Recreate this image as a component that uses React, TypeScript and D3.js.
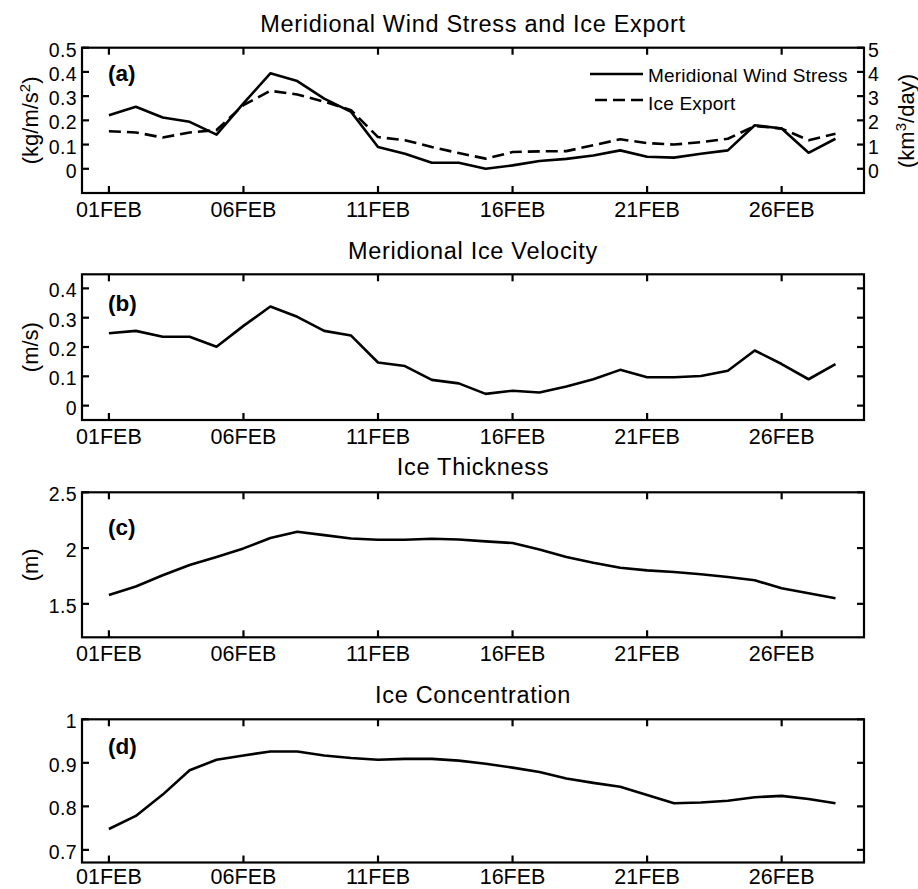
import React from "react";
import * as d3 from "d3";

// Day of February for every sample
const days = d3.range(1, 29);

// (a) Meridional wind stress (kg/m/s^2) and ice export (km^3/day)
const windStress = [
  0.221, 0.256, 0.212, 0.194, 0.141, 0.27, 0.394, 0.362, 0.29, 0.235,
  0.09, 0.062, 0.025, 0.025, 0.0, 0.014, 0.032, 0.041, 0.055, 0.076,
  0.05, 0.046, 0.062, 0.076, 0.18, 0.166, 0.066, 0.124,
];
const iceExport = [
  1.55, 1.5, 1.29, 1.5, 1.6, 2.63, 3.22, 3.07, 2.77, 2.42,
  1.31, 1.18, 0.9, 0.65, 0.42, 0.69, 0.72, 0.73, 0.97, 1.22,
  1.06, 1.0, 1.1, 1.24, 1.77, 1.66, 1.18, 1.45,
];
// (b) Meridional ice velocity (m/s)
const iceVelocity = [
  0.247, 0.255, 0.235, 0.235, 0.201, 0.272, 0.338, 0.303, 0.255, 0.239,
  0.147, 0.135, 0.088, 0.076, 0.04, 0.051, 0.045, 0.065, 0.09, 0.122,
  0.097, 0.097, 0.101, 0.119, 0.188, 0.142, 0.09, 0.142,
];
// (c) Ice thickness (m)
const iceThickness = [
  1.58, 1.655, 1.756, 1.848, 1.92, 1.997, 2.09, 2.146, 2.116, 2.086,
  2.074, 2.074, 2.083, 2.077, 2.06, 2.045, 1.988, 1.92, 1.869, 1.824,
  1.8, 1.786, 1.765, 1.741, 1.711, 1.64, 1.595, 1.55,
];
// (d) Ice concentration
const iceConcentration = [
  0.748, 0.778, 0.827, 0.883, 0.907, 0.917, 0.926, 0.926, 0.917, 0.911,
  0.907, 0.909, 0.909, 0.905, 0.898, 0.889, 0.879, 0.864, 0.854, 0.845,
  0.826, 0.807, 0.809, 0.813, 0.821, 0.824, 0.817, 0.807,
];

const dateTicks = [1, 6, 11, 16, 21, 26];
const dateLabels = ["01FEB", "06FEB", "11FEB", "16FEB", "21FEB", "26FEB"];

const ticksA = [0, 0.1, 0.2, 0.3, 0.4, 0.5];
const ticksARight = [0, 1, 2, 3, 4, 5];
const ticksB = [0, 0.1, 0.2, 0.3, 0.4];
const ticksC = [1.5, 2, 2.5];
const ticksD = [0.7, 0.8, 0.9, 1];

const FONT = "'Liberation Sans', Arial, Helvetica, sans-serif";
const LEFT = 82;
const RIGHT = 864;
const TICK = 7;
const LINE_W = 2.6;

const x = d3.scaleLinear().domain([0, 29.06]).range([LEFT, RIGHT]);
const fmt = (v: number) => String(+v.toFixed(2));

type Series = { values: number[]; dash?: string; scale?: d3.ScaleLinear<number, number> };

function Panel(props: {
  top: number;
  bottom: number;
  domain: [number, number];
  ticks: number[];
  title: string;
  titleY: number;
  letter: string;
  letterY: number;
  yLabel: React.ReactNode;
  series: Series[];
  rightTicks?: number[];
  dateLabelGap?: number;
}) {
  const { top, bottom, domain, ticks, title, titleY, letter, letterY, yLabel, series, rightTicks } = props;
  const dateGap = props.dateLabelGap ?? 23.5;
  const y = d3.scaleLinear().domain(domain).range([bottom, top]);
  const mid = (top + bottom) / 2;
  return (
    <g>
      <text
        x={(LEFT + RIGHT) / 2}
        y={titleY}
        textAnchor="middle"
        fontSize={23.5}
        letterSpacing={0.7}
        fontFamily={FONT}
        fill="#000"
      >
        {title}
      </text>
      {series.map((s, i) => {
        const sc = s.scale ?? y;
        const line = d3
          .line<number>()
          .x((_, j) => x(days[j]))
          .y((v) => sc(v));
        return (
          <path
            key={i}
            d={line(s.values) ?? ""}
            fill="none"
            stroke="#000"
            strokeWidth={LINE_W}
            strokeDasharray={s.dash}
            strokeLinejoin="round"
          />
        );
      })}
      {/* x ticks, bottom and top, pointing inward */}
      {dateTicks.map((d, i) => (
        <g key={d}>
          <line x1={x(d)} x2={x(d)} y1={bottom} y2={bottom - TICK} stroke="#000" strokeWidth={2.2} />
          <line x1={x(d)} x2={x(d)} y1={top} y2={top + TICK} stroke="#000" strokeWidth={2.2} />
          <text
            x={x(d)}
            y={bottom + dateGap}
            textAnchor="middle"
            fontSize={21.5}
            fontFamily={FONT}
            fill="#000"
          >
            {dateLabels[i]}
          </text>
        </g>
      ))}
      {/* y ticks, left labelled and right mirrored */}
      {ticks.map((t, i) => (
        <g key={t}>
          <line x1={LEFT} x2={LEFT + TICK} y1={y(t)} y2={y(t)} stroke="#000" strokeWidth={2.2} />
          <line x1={RIGHT} x2={RIGHT - TICK} y1={y(t)} y2={y(t)} stroke="#000" strokeWidth={2.2} />
          <text
            x={LEFT - 5}
            y={y(t) + 9}
            textAnchor="end"
            fontSize={19.5}
            letterSpacing={0.4}
            fontFamily={FONT}
            fill="#000"
          >
            {fmt(t)}
          </text>
          {rightTicks && (
            <text
              x={RIGHT + 4}
              y={y(t) + 9}
              textAnchor="start"
              fontSize={19.5}
              fontFamily={FONT}
              fill="#000"
            >
              {fmt(rightTicks[i])}
            </text>
          )}
        </g>
      ))}
      <rect
        x={LEFT}
        y={top}
        width={RIGHT - LEFT}
        height={bottom - top}
        fill="none"
        stroke="#000"
        strokeWidth={2.2}
      />
      <text
        x={108}
        y={letterY}
        fontSize={22.5}
        fontWeight="bold"
        fontFamily={FONT}
        fill="#000"
      >
        {letter}
      </text>
      <text
        transform={`translate(38,${mid}) rotate(-90)`}
        textAnchor="middle"
        fontSize={22}
        fontFamily={FONT}
        fill="#000"
      >
        {yLabel}
      </text>
    </g>
  );
}

export default function App() {
  const yRightA = d3.scaleLinear().domain([-1, 5]).range([193, 47.7]);
  return (
    <svg
      width={918}
      height={889}
      style={{ position: "absolute", left: 0, top: 0, background: "#fff" }}
    >
      <rect width={918} height={889} fill="#fff" />
      <Panel
        top={47.7}
        bottom={193}
        domain={[-0.1, 0.5]}
        ticks={ticksA}
        rightTicks={ticksARight}
        title="Meridional Wind Stress and Ice Export"
        titleY={31.5}
        letter="(a)"
        letterY={81}
        yLabel={
          <>
            (kg/m/s
            <tspan dy={-8} fontSize={15}>
              2
            </tspan>
            <tspan dy={8}>)</tspan>
          </>
        }
        series={[
          { values: windStress },
          { values: iceExport, dash: "12,6", scale: yRightA },
        ]}
      />
      {/* right axis label of panel (a) */}
      <text
        transform={`translate(914,121) rotate(-90)`}
        textAnchor="middle"
        fontSize={22}
        fontFamily={FONT}
        fill="#000"
      >
        (km
        <tspan dy={-8} fontSize={15}>
          3
        </tspan>
        <tspan dy={8}>/day)</tspan>
      </text>
      {/* legend */}
      <line x1={590} x2={643} y1={74} y2={74} stroke="#000" strokeWidth={LINE_W} />
      <text x={648} y={82} fontSize={19} letterSpacing={0.2} fontFamily={FONT} fill="#000">
        Meridional Wind Stress
      </text>
      <line
        x1={595}
        x2={643}
        y1={100}
        y2={100}
        stroke="#000"
        strokeWidth={LINE_W}
        strokeDasharray="12,6"
      />
      <text x={648} y={110} fontSize={19} letterSpacing={0.2} fontFamily={FONT} fill="#000">
        Ice Export
      </text>

      <Panel
        top={274.3}
        bottom={420}
        domain={[-0.049, 0.448]}
        ticks={ticksB}
        title="Meridional Ice Velocity"
        titleY={259.3}
        letter="(b)"
        letterY={311}
        yLabel="(m/s)"
        series={[{ values: iceVelocity }]}
      />
      <Panel
        top={492.3}
        bottom={637.3}
        domain={[1.2, 2.5]}
        ticks={ticksC}
        title="Ice Thickness"
        titleY={475}
        letter="(c)"
        letterY={535}
        yLabel="(m)"
        series={[{ values: iceThickness }]}
      />
      <Panel
        top={719.3}
        bottom={862.5}
        domain={[0.671, 1]}
        ticks={ticksD}
        title="Ice Concentration"
        titleY={702.7}
        letter="(d)"
        letterY={754}
        yLabel=""
        dateLabelGap={21.5}
        series={[{ values: iceConcentration }]}
      />
    </svg>
  );
}
